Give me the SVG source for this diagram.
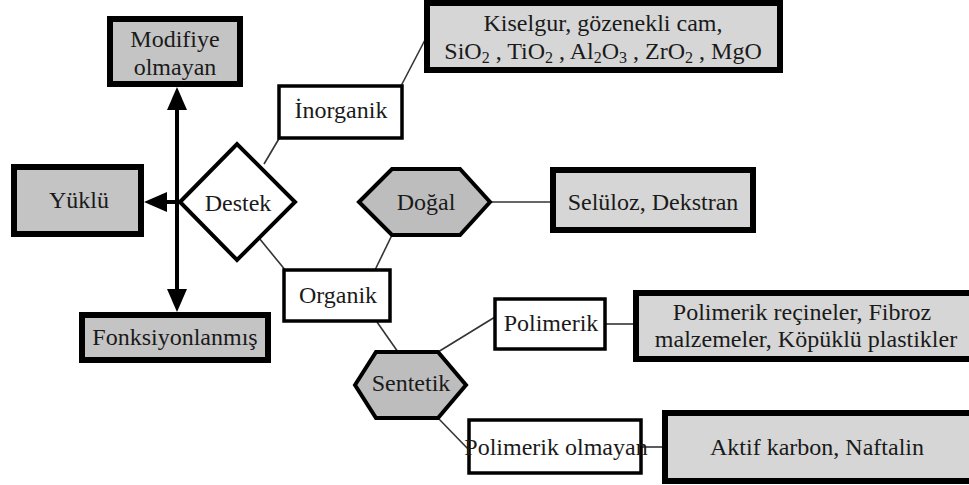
<svg xmlns="http://www.w3.org/2000/svg" width="969" height="485" viewBox="0 0 969 485">
<defs>
<marker id="ah" viewBox="0 0 23 20" refX="10" refY="10" markerWidth="23" markerHeight="20" markerUnits="userSpaceOnUse" orient="auto">
<path d="M0,0 L23,10 L0,20 z" fill="#000"/>
</marker>
</defs>
<rect width="969" height="485" fill="#fff"/>
<g id="connectors" fill="none">
<g stroke="#000" stroke-width="4">
<line x1="177" y1="202" x2="177" y2="100" marker-end="url(#ah)"/>
<line x1="177" y1="202" x2="177" y2="299" marker-end="url(#ah)"/>
<line x1="179" y1="202" x2="157" y2="202" marker-end="url(#ah)"/>
</g>
<g stroke="#333" stroke-width="1.6">
<line x1="264" y1="164" x2="280" y2="137"/>
<line x1="401" y1="86" x2="426" y2="38"/>
<line x1="259" y1="238" x2="286" y2="271"/>
<line x1="392" y1="235" x2="375" y2="270"/>
<line x1="490" y1="202" x2="553" y2="202"/>
<line x1="377" y1="322" x2="398" y2="352"/>
<line x1="438" y1="352" x2="495" y2="317"/>
<line x1="438" y1="418" x2="469" y2="450"/>
<line x1="605" y1="324" x2="636" y2="324"/>
<line x1="641" y1="447" x2="665" y2="447"/>
</g>
</g>
<g id="modifiye">
<rect x="110" y="19" width="130" height="65" fill="#c4c4c4" stroke="#000" stroke-width="6"/>
<text font-family="Liberation Serif" font-size="24" fill="#1a1a1a" text-anchor="middle" x="175" y="47">Modifiye</text>
<text font-family="Liberation Serif" font-size="24" fill="#1a1a1a" text-anchor="middle" x="175" y="75">olmayan</text>
</g>
<g id="yuklu">
<rect x="14" y="167" width="127" height="67" fill="#c4c4c4" stroke="#000" stroke-width="6"/>
<text font-family="Liberation Serif" font-size="24" fill="#1a1a1a" text-anchor="middle" x="79" y="208">Yüklü</text>
</g>
<g id="fonksiyonlanmis">
<rect x="82" y="315" width="186" height="45" fill="#c4c4c4" stroke="#000" stroke-width="6"/>
<text font-family="Liberation Serif" font-size="24" fill="#1a1a1a" text-anchor="middle" x="175" y="345">Fonksiyonlanmış</text>
</g>
<g id="destek">
<polygon points="180,202 237,144 295,202 237,260" fill="#fff" stroke="#000" stroke-width="4"/>
<text font-family="Liberation Serif" font-size="24" fill="#1a1a1a" text-anchor="middle" x="238" y="211">Destek</text>
</g>
<g id="inorganik">
<rect x="279" y="86" width="123" height="52" fill="#fff" stroke="#000" stroke-width="3.5"/>
<text font-family="Liberation Serif" font-size="24" fill="#1a1a1a" text-anchor="middle" x="341" y="118">İnorganik</text>
</g>
<g id="kiselgur">
<rect x="427" y="3" width="353" height="67" fill="#d6d6d6" stroke="#000" stroke-width="6"/>
<text font-family="Liberation Serif" font-size="24" fill="#1a1a1a" text-anchor="middle" x="603" y="31">Kiselgur, gözenekli cam,</text>
<text font-family="Liberation Serif" font-size="24" fill="#1a1a1a" text-anchor="middle" x="603" y="59">SiO<tspan font-size="16" dy="4">2</tspan><tspan dy="-4"> , TiO</tspan><tspan font-size="16" dy="4">2</tspan><tspan dy="-4"> , Al</tspan><tspan font-size="16" dy="4">2</tspan><tspan dy="-4">O</tspan><tspan font-size="16" dy="4">3</tspan><tspan dy="-4"> , ZrO</tspan><tspan font-size="16" dy="4">2</tspan><tspan dy="-4"> , MgO</tspan></text>
</g>
<g id="organik">
<rect x="284" y="270" width="106" height="51" fill="#fff" stroke="#000" stroke-width="3.5"/>
<text font-family="Liberation Serif" font-size="24" fill="#1a1a1a" text-anchor="middle" x="338" y="303">Organik</text>
</g>
<g id="dogal">
<polygon points="359,202 392,169 460,169 490,202 460,235 392,235" fill="#bdbdbd" stroke="#000" stroke-width="4"/>
<text font-family="Liberation Serif" font-size="24" fill="#1a1a1a" text-anchor="middle" x="426" y="210">Doğal</text>
</g>
<g id="seluloz">
<rect x="553" y="170" width="200" height="60" fill="#d6d6d6" stroke="#000" stroke-width="6"/>
<text font-family="Liberation Serif" font-size="24" fill="#1a1a1a" text-anchor="middle" x="653" y="210">Selüloz, Dekstran</text>
</g>
<g id="sentetik">
<polygon points="355,385 376,352 438,352 466,385 438,418 376,418" fill="#bdbdbd" stroke="#000" stroke-width="4"/>
<text font-family="Liberation Serif" font-size="24" fill="#1a1a1a" text-anchor="middle" x="411" y="391">Sentetik</text>
</g>
<g id="polimerik">
<rect x="495" y="299" width="110" height="50" fill="#fff" stroke="#000" stroke-width="3.5"/>
<text font-family="Liberation Serif" font-size="24" fill="#1a1a1a" text-anchor="middle" x="551" y="331">Polimerik</text>
</g>
<g id="polimerik-reciner">
<rect x="636" y="293" width="340" height="66" fill="#d6d6d6" stroke="#000" stroke-width="6"/>
<text font-family="Liberation Serif" font-size="24" fill="#1a1a1a" text-anchor="middle" x="802" y="320">Polimerik reçineler, Fibroz</text>
<text font-family="Liberation Serif" font-size="24" fill="#1a1a1a" text-anchor="middle" x="806" y="347">malzemeler, Köpüklü plastikler</text>
</g>
<g id="polimerik-olmayan">
<rect x="469" y="420" width="172" height="53" fill="#fff" stroke="#000" stroke-width="3.5"/>
<text font-family="Liberation Serif" font-size="24" fill="#1a1a1a" text-anchor="middle" x="556" y="455">Polimerik olmayan</text>
</g>
<g id="aktif">
<rect x="665" y="413" width="310" height="68" fill="#d6d6d6" stroke="#000" stroke-width="6"/>
<text font-family="Liberation Serif" font-size="24" fill="#1a1a1a" text-anchor="middle" x="817" y="455">Aktif karbon, Naftalin</text>
</g>
</svg>
